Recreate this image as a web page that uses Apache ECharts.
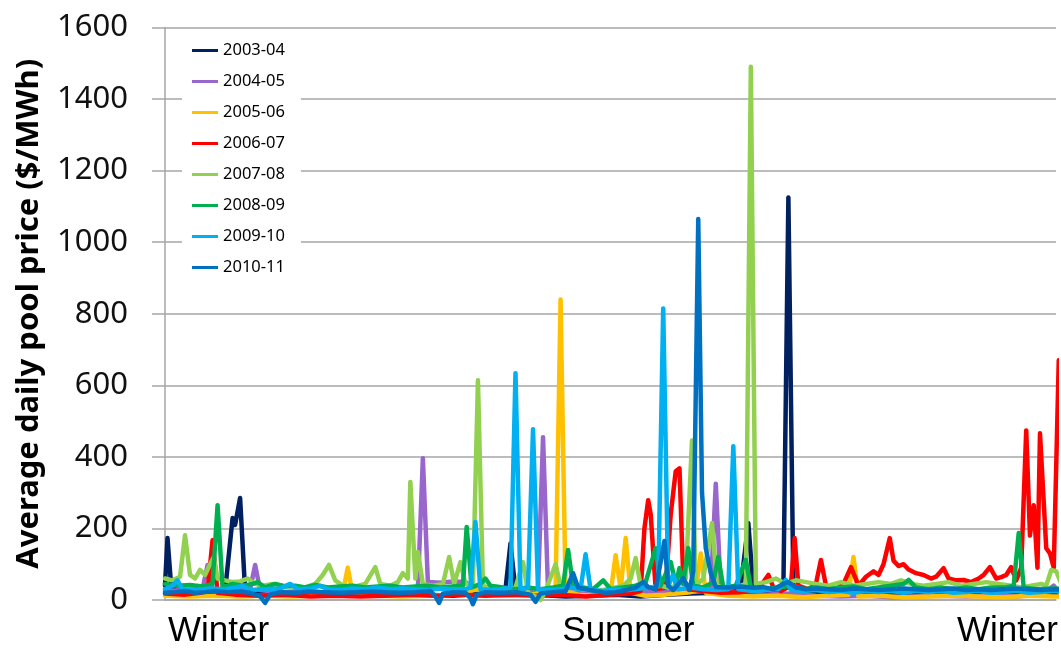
<!DOCTYPE html>
<html>
<head>
<meta charset="utf-8">
<script src="https://cdn.jsdelivr.net/npm/echarts@6/dist/echarts.min.js"></script>
<style>
  html, body { margin: 0; padding: 0; background: #fff; }
  #chart { width: 1061px; height: 650px; }
</style>
</head>
<body>
<div id="chart"></div>
<script>
// Financial years shown in the legend
var years = ['2003-04', '2004-05', '2005-06', '2006-07', '2007-08', '2008-09', '2009-10', '2010-11'];
var colors = ['#002060', '#9966cc', '#ffc000', '#ff0000', '#92d050', '#00b050', '#00b0f0', '#0070c0'];

// Season labels along the day-of-year axis
var seasonNames = ['Winter', 'Summer', 'Winter'];
var seasonDays = [21.4, 185.1, 336.5];

// Average daily pool price ($/MWh), as [day, price]
var s0304 = [[0,40],[1,173],[2.5,35],[6,25],[12,20],[18,22],[24,25],[27,229],[28,210],[30,285],[32,25],[38,18],[45,20],[55,15],[65,18],[75,12],[85,15],[95,18],[105,15],[115,12],[125,18],[133,20],[136,30],[138,158],[140,25],[148,15],[160,10],[170,12],[180,15],[190,10],[200,15],[210,18],[220,20],[226,25],[230,40],[233,215],[235,30],[240,25],[247,30],[249,1125],[251,30],[258,20],[270,18],[280,15],[290,18],[300,15],[310,18],[320,15],[330,18],[340,15],[350,12],[360,15],[365,15]];
var s0405 = [[0,25],[8,28],[15,30],[17,98],[19,28],[25,25],[34,30],[36,98],[38,28],[45,22],[55,25],[65,20],[75,22],[85,25],[95,22],[101,30],[103,396],[105,50],[110,48],[115,52],[120,50],[124,30],[130,25],[138,28],[145,25],[149,30],[151,455],[153,28],[160,22],[170,20],[180,18],[190,22],[200,25],[210,22],[216,25],[218,30],[220,325],[222,28],[230,20],[240,15],[250,18],[260,12],[270,10],[280,12],[290,8],[300,10],[310,12],[320,10],[330,12],[340,10],[350,15],[355,40],[358,15],[365,12]];
var s0506 = [[0,12],[10,10],[20,12],[30,10],[40,12],[50,10],[60,12],[68,15],[71,20],[73,90],[75,15],[85,12],[95,10],[105,12],[115,15],[125,30],[128,15],[135,12],[145,15],[152,20],[156,25],[158,840],[160,25],[165,15],[172,12],[178,20],[180,125],[182,30],[184,173],[186,20],[192,12],[200,15],[208,20],[212,25],[214,130],[216,20],[225,12],[235,10],[245,12],[255,8],[265,12],[273,15],[275,120],[277,10],[285,12],[295,8],[305,10],[315,12],[325,10],[335,8],[345,12],[355,10],[365,10]];
var s0607 = [[0,18],[8,15],[14,20],[17,25],[19,167],[21,20],[28,15],[38,12],[48,15],[58,10],[68,12],[78,10],[88,12],[98,15],[108,12],[118,15],[128,12],[138,15],[148,12],[158,15],[168,10],[178,15],[186,18],[190,25],[191.5,200],[193,279],[194,240],[196,30],[200,35],[202,240],[204,360],[205.5,368],[207,60],[209,30],[215,25],[222,20],[230,22],[236,25],[239,50],[241,70],[243,35],[246,25],[250,40],[251.5,173],[253,40],[257,30],[260,45],[262,112],[264,40],[268,30],[271,45],[274,92],[277,40],[280,65],[283,80],[285,70],[287,100],[289.5,173],[291,110],[293,95],[295,100],[297,85],[300,75],[303,70],[306,60],[308,65],[311,89],[313,60],[316,55],[319,56],[322,50],[325,60],[327,70],[329.5,92],[332,60],[334,64],[336,70],[338,92],[340,55],[342,90],[344,474],[345.5,180],[347,265],[348.5,90],[349.5,466],[352,145],[353.5,130],[355,90],[357,670],[359,300],[362,120],[365,100]];
var s0708 = [[0,60],[3,55],[6,65],[8,181],[10,70],[12,60],[14,84],[16,70],[18,100],[19.5,120],[21,60],[24,55],[27,50],[30,52],[33,60],[36,45],[39,40],[43,45],[47,40],[52,38],[56,35],[60,45],[63,70],[65.5,98],[68,55],[71,40],[76,38],[80,45],[84,92],[86,45],[90,40],[93,50],[95,75],[97,60],[98,330],[100,60],[101,134],[103,45],[107,40],[111,45],[113.5,120],[115.5,45],[118,106],[120,45],[123,40],[125,614],[127,40],[131,30],[136,25],[140,35],[143,106],[145,20],[148,10],[150,0],[152,25],[156,100],[158,40],[162,35],[167,30],[172,25],[177,30],[183,40],[186,60],[188,117],[190,40],[194,35],[198,40],[201,35],[205,40],[208,60],[210.5,446],[212,40],[215,60],[218.5,215],[220.5,40],[225,35],[230,40],[232,45],[234,1490],[236,45],[240,50],[244,60],[248,45],[252,55],[256,50],[260,45],[265,40],[270,50],[275,40],[280,45],[285,50],[290,45],[294,55],[298,45],[303,40],[308,45],[313,50],[318,40],[323,45],[328,50],[333,45],[338,40],[342,35],[346,40],[350,45],[352,40],[354,84],[356,80],[358,45],[362,40],[365,45]];
var s0809 = [[0,45],[5,40],[10,42],[15,38],[19,45],[21,265],[23,35],[27,45],[31,40],[35,45],[37,50],[40,35],[44,45],[48,38],[52,40],[56,35],[60,42],[65,35],[70,38],[75,40],[80,35],[85,38],[90,40],[95,35],[100,38],[105,40],[110,35],[115,38],[119,40],[120.5,204],[122.5,35],[126,45],[128,60],[130,40],[135,35],[140,30],[145,35],[150,30],[155,35],[159,40],[161,140],[163,40],[167,35],[171,30],[175,55],[178,30],[183,35],[188,40],[192,50],[196,145],[198,40],[202,106],[204,45],[205.5,89],[207,45],[209,145],[211,40],[215,35],[219,50],[221,120],[223,35],[228,40],[232,112],[234,35],[240,30],[245,35],[250,40],[255,30],[260,35],[265,30],[270,35],[275,38],[280,30],[285,35],[290,40],[295,45],[297,56],[300,35],[305,30],[310,35],[315,30],[320,35],[325,30],[330,35],[336,35],[339,40],[341,187],[343,35],[348,30],[355,32],[365,30]];
var s0910 = [[0,30],[3,40],[5,55],[7,30],[12,28],[18,32],[24,30],[28,35],[31,40],[34,28],[40,30],[46,32],[50,45],[53,30],[58,32],[62,40],[65,30],[70,28],[75,32],[80,30],[85,35],[90,30],[95,32],[100,30],[105,28],[110,32],[115,30],[120,30],[122,35],[124,218],[126,30],[130,28],[134,30],[138,35],[140,634],[142,30],[145,35],[147,477],[149,30],[153,28],[158,30],[162,35],[166,30],[168,128],[170,28],[175,25],[180,30],[185,28],[190,32],[195,35],[197,40],[199,815],[201,40],[203,70],[205,30],[210,35],[215,30],[220,28],[225,30],[227,430],[229,30],[235,25],[240,28],[245,30],[248,56],[250,28],[255,25],[260,28],[265,22],[270,25],[275,20],[280,25],[285,22],[290,25],[295,20],[300,25],[305,22],[310,25],[315,20],[320,22],[325,25],[330,20],[335,22],[340,25],[345,20],[350,22],[355,25],[360,22],[365,20]];
var s1011 = [[0,20],[4,22],[8,25],[12,20],[16,22],[20,25],[25,22],[30,24],[34,20],[38,10],[40,-8],[42,15],[46,22],[52,20],[58,24],[64,22],[70,20],[76,22],[82,24],[88,22],[94,20],[100,22],[106,25],[108,10],[109.5,-8],[111,18],[116,22],[120,20],[122,5],[123,-12],[124.5,15],[128,22],[134,20],[140,22],[146,15],[148,-5],[150,18],[155,22],[160,25],[163,75],[165,35],[168,30],[172,25],[176,20],[180,22],[184,28],[188,35],[191,50],[193,36],[196,30],[199.5,165],[201,40],[203,28],[207,61],[209.5,28],[211,80],[213,1065],[214.5,300],[216,145],[218,75],[220,36],[225,35],[230,38],[235,34],[239,36],[243,30],[247,45],[249,50],[252,35],[256,30],[260,32],[265,30],[270,28],[275,32],[280,30],[285,28],[290,30],[295,32],[300,30],[305,28],[310,30],[315,32],[320,28],[325,30],[330,28],[335,30],[340,32],[345,30],[350,28],[355,30],[360,28],[365,30]];

var seriesData = [s0304, s0405, s0506, s0607, s0708, s0809, s0910, s1011];

var chart = echarts.init(document.getElementById('chart'), null, { renderer: 'canvas' });
var gridColor = '#a6a6a6';

var option = {
    animation: false,
    backgroundColor: '#fff',
    color: colors,
    grid: { left: 165, top: 27.5, right: 0, bottom: 50, containLabel: false },
    legend: {
        orient: 'vertical',
        left: 182,
        top: 32,
        padding: [10, 16, 10, 10],
        backgroundColor: '#fff',
        icon: 'rect',
        itemWidth: 26,
        itemHeight: 3,
        itemGap: 14,
        data: years,
        textStyle: { fontFamily: 'Noto Sans', fontSize: 16.5, color: '#000' }
    },
    xAxis: {
        type: 'value',
        min: 0,
        max: 355.9,   // the source chart is cut off at the right edge
        axisLine: { show: true, lineStyle: { color: gridColor, width: 1.5 } },
        axisTick: { show: false },
        splitLine: { show: false },
        axisLabel: {
            customValues: seasonDays,
            margin: 14,
            fontFamily: 'Liberation Sans',
            fontSize: 35,
            color: '#000',
            formatter: function (v) {
                var i = seasonDays.indexOf(v);
                return i >= 0 ? seasonNames[i] : '';
            }
        }
    },
    yAxis: {
        type: 'value',
        min: 0,
        max: 1600,
        interval: 200,
        name: 'Average daily pool price ($/MWh)',
        nameLocation: 'middle',
        nameGap: 120,
        nameTextStyle: { fontFamily: 'Noto Sans', fontSize: 31, fontWeight: 'bold', color: '#000' },
        axisLine: { show: true, lineStyle: { color: gridColor, width: 1.5 } },
        axisTick: { show: true, length: 13, lineStyle: { color: gridColor, width: 1.5 } },
        splitLine: { show: true, lineStyle: { color: gridColor, width: 1.5 } },
        axisLabel: {
            margin: 37, fontFamily: 'Noto Sans', fontSize: 31, color: '#111',
            formatter: function (v) { return String(v); }
        }
    },
    series: years.map(function (name, i) {
        return {
            name: name,
            type: 'line',
            data: seriesData[i],
            symbol: 'none',
            clip: false,
            lineStyle: { width: 4.5, join: 'round', cap: 'round' }
        };
    })
};

chart.setOption(option);
</script>
</body>
</html>
